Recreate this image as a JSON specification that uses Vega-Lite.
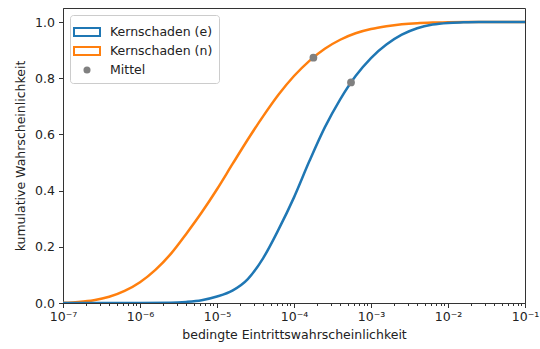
{
  "$schema": "https://vega.github.io/schema/vega-lite/v6.json",
  "width": 462,
  "height": 295,
  "autosize": "none",
  "padding": {"left": 63, "top": 8, "right": 15, "bottom": 46},
  "background": "white",
  "config": {
    "view": {"stroke": "#333", "strokeWidth": 1},
    "font": "DejaVu Sans",
    "axis": {
      "labelFont": "DejaVu Sans",
      "titleFont": "DejaVu Sans",
      "labelFontSize": 12.5,
      "titleFontSize": 12.5,
      "titleFontWeight": "normal",
      "labelColor": "#222",
      "titleColor": "#222",
      "domainColor": "#333",
      "tickColor": "#333",
      "grid": false,
      "labelFlush": false,
      "labelOverlap": false
    },
    "legend": {"labelFont": "DejaVu Sans", "labelFontSize": 12.5, "labelColor": "#222"}
  },
  "data": {
    "values": [
      {"series": "Kernschaden (n)", "x": 1e-7, "y": 0.001},
      {"series": "Kernschaden (n)", "x": 1.585e-7, "y": 0.004},
      {"series": "Kernschaden (n)", "x": 2.512e-7, "y": 0.010},
      {"series": "Kernschaden (n)", "x": 3.981e-7, "y": 0.022},
      {"series": "Kernschaden (n)", "x": 6.310e-7, "y": 0.043},
      {"series": "Kernschaden (n)", "x": 1e-6, "y": 0.074},
      {"series": "Kernschaden (n)", "x": 1.585e-6, "y": 0.118},
      {"series": "Kernschaden (n)", "x": 2.512e-6, "y": 0.175},
      {"series": "Kernschaden (n)", "x": 3.981e-6, "y": 0.246},
      {"series": "Kernschaden (n)", "x": 6.310e-6, "y": 0.322},
      {"series": "Kernschaden (n)", "x": 1e-5, "y": 0.405},
      {"series": "Kernschaden (n)", "x": 1.585e-5, "y": 0.494},
      {"series": "Kernschaden (n)", "x": 2.512e-5, "y": 0.582},
      {"series": "Kernschaden (n)", "x": 3.981e-5, "y": 0.665},
      {"series": "Kernschaden (n)", "x": 6.310e-5, "y": 0.742},
      {"series": "Kernschaden (n)", "x": 1e-4, "y": 0.808},
      {"series": "Kernschaden (n)", "x": 1.585e-4, "y": 0.862},
      {"series": "Kernschaden (n)", "x": 2.512e-4, "y": 0.905},
      {"series": "Kernschaden (n)", "x": 3.981e-4, "y": 0.937},
      {"series": "Kernschaden (n)", "x": 6.310e-4, "y": 0.960},
      {"series": "Kernschaden (n)", "x": 1e-3, "y": 0.975},
      {"series": "Kernschaden (n)", "x": 1.585e-3, "y": 0.985},
      {"series": "Kernschaden (n)", "x": 2.512e-3, "y": 0.992},
      {"series": "Kernschaden (n)", "x": 3.981e-3, "y": 0.996},
      {"series": "Kernschaden (n)", "x": 6.310e-3, "y": 0.998},
      {"series": "Kernschaden (n)", "x": 1e-2, "y": 0.999},
      {"series": "Kernschaden (n)", "x": 2.512e-2, "y": 1.0},
      {"series": "Kernschaden (n)", "x": 1e-1, "y": 1.0},
      {"series": "Kernschaden (e)", "x": 1e-7, "y": 0.0},
      {"series": "Kernschaden (e)", "x": 1e-6, "y": 0.0},
      {"series": "Kernschaden (e)", "x": 2.512e-6, "y": 0.001},
      {"series": "Kernschaden (e)", "x": 3.981e-6, "y": 0.004},
      {"series": "Kernschaden (e)", "x": 6.310e-6, "y": 0.010},
      {"series": "Kernschaden (e)", "x": 1e-5, "y": 0.023},
      {"series": "Kernschaden (e)", "x": 1.585e-5, "y": 0.044},
      {"series": "Kernschaden (e)", "x": 2.512e-5, "y": 0.085},
      {"series": "Kernschaden (e)", "x": 3.981e-5, "y": 0.160},
      {"series": "Kernschaden (e)", "x": 6.310e-5, "y": 0.262},
      {"series": "Kernschaden (e)", "x": 1e-4, "y": 0.376},
      {"series": "Kernschaden (e)", "x": 1.585e-4, "y": 0.505},
      {"series": "Kernschaden (e)", "x": 2.512e-4, "y": 0.625},
      {"series": "Kernschaden (e)", "x": 3.981e-4, "y": 0.725},
      {"series": "Kernschaden (e)", "x": 6.310e-4, "y": 0.808},
      {"series": "Kernschaden (e)", "x": 1e-3, "y": 0.872},
      {"series": "Kernschaden (e)", "x": 1.585e-3, "y": 0.920},
      {"series": "Kernschaden (e)", "x": 2.512e-3, "y": 0.955},
      {"series": "Kernschaden (e)", "x": 3.981e-3, "y": 0.978},
      {"series": "Kernschaden (e)", "x": 6.310e-3, "y": 0.991},
      {"series": "Kernschaden (e)", "x": 1e-2, "y": 0.997},
      {"series": "Kernschaden (e)", "x": 1.585e-2, "y": 0.999},
      {"series": "Kernschaden (e)", "x": 2.512e-2, "y": 1.0},
      {"series": "Kernschaden (e)", "x": 1e-1, "y": 1.0},
      {"series": "Mittel", "x": 5.5e-4, "y": 0.785},
      {"series": "Mittel", "x": 1.786e-4, "y": 0.873}
    ]
  },
  "encoding": {
    "x": {
      "field": "x",
      "type": "quantitative",
      "scale": {"type": "log", "domain": [1e-7, 0.1], "nice": false},
      "axis": {
        "title": "bedingte Eintrittswahrscheinlichkeit",
        "values": [1e-7, 2e-7, 3e-7, 4e-7, 5e-7, 6e-7, 7e-7, 8e-7, 9e-7, 1e-6, 2e-6, 3e-6, 4e-6, 5e-6, 6e-6, 7e-6, 8e-6, 9e-6, 1e-5, 2e-5, 3e-5, 4e-5, 5e-5, 6e-5, 7e-5, 8e-5, 9e-5, 1e-4, 2e-4, 3e-4, 4e-4, 5e-4, 6e-4, 7e-4, 8e-4, 9e-4, 1e-3, 2e-3, 3e-3, 4e-3, 5e-3, 6e-3, 7e-3, 8e-3, 9e-3, 1e-2, 2e-2, 3e-2, 4e-2, 5e-2, 6e-2, 7e-2, 8e-2, 9e-2, 1e-1],
        "labelExpr": "abs(log(datum.value)/LN10 - round(log(datum.value)/LN10)) < 0.000001 ? '10⁻' + ['⁰','¹','²','³','⁴','⁵','⁶','⁷','⁸','⁹'][-round(log(datum.value)/LN10)] : ''",
        "tickSize": {"condition": {"test": "abs(log(datum.value)/LN10 - round(log(datum.value)/LN10)) < 0.000001", "value": 4.5}, "value": 2.5},
        "labelPadding": 3,
        "titlePadding": 5
      }
    },
    "y": {
      "field": "y",
      "type": "quantitative",
      "scale": {"domain": [0, 1.05], "nice": false},
      "axis": {
        "title": "kumulative Wahrscheinlichkeit",
        "values": [0, 0.2, 0.4, 0.6, 0.8, 1.0],
        "format": ".1f",
        "tickSize": 4.5,
        "labelPadding": 4,
        "titlePadding": 7
      }
    },
    "color": {
      "field": "series",
      "type": "nominal",
      "scale": {
        "domain": ["Kernschaden (e)", "Kernschaden (n)", "Mittel"],
        "range": ["#1f77b4", "#ff7f0e", "grey"]
      },
      "legend": {
        "title": null,
        "orient": "top-left",
        "offset": 7,
        "padding": 6,
        "fillColor": "white",
        "strokeColor": "#cccccc",
        "cornerRadius": 3,
        "symbolSize": 400,
        "labelOffset": 12,
        "rowPadding": -2,
        "encode": {
          "symbols": {
            "update": {
              "shape": {"signal": "datum.value == 'Mittel' ? 'circle' : 'M-1.3,-0.4H1.3V0.4H-1.3Z'"},
              "size": {"signal": "datum.value == 'Mittel' ? 50 : 400"},
              "fill": {"signal": "datum.value == 'Mittel' ? 'grey' : 'white'"},
              "fillOpacity": {"signal": "datum.value == 'Mittel' ? 1 : 0"},
              "stroke": {"signal": "datum.value == 'Kernschaden (e)' ? '#1f77b4' : datum.value == 'Kernschaden (n)' ? '#ff7f0e' : 'grey'"},
              "strokeOpacity": {"signal": "datum.value == 'Mittel' ? 0 : 1"},
              "strokeWidth": {"value": 2},
              "opacity": {"value": 1}
            }
          }
        }
      }
    }
  },
  "layer": [
    {
      "transform": [{"filter": "datum.series != 'Mittel'"}],
      "mark": {"type": "line", "interpolate": "monotone", "strokeWidth": 2.5, "clip": true}
    },
    {
      "transform": [{"filter": "datum.series == 'Mittel'"}],
      "mark": {"type": "point", "filled": true, "opacity": 1, "size": 60, "shape": "circle"}
    }
  ]
}
